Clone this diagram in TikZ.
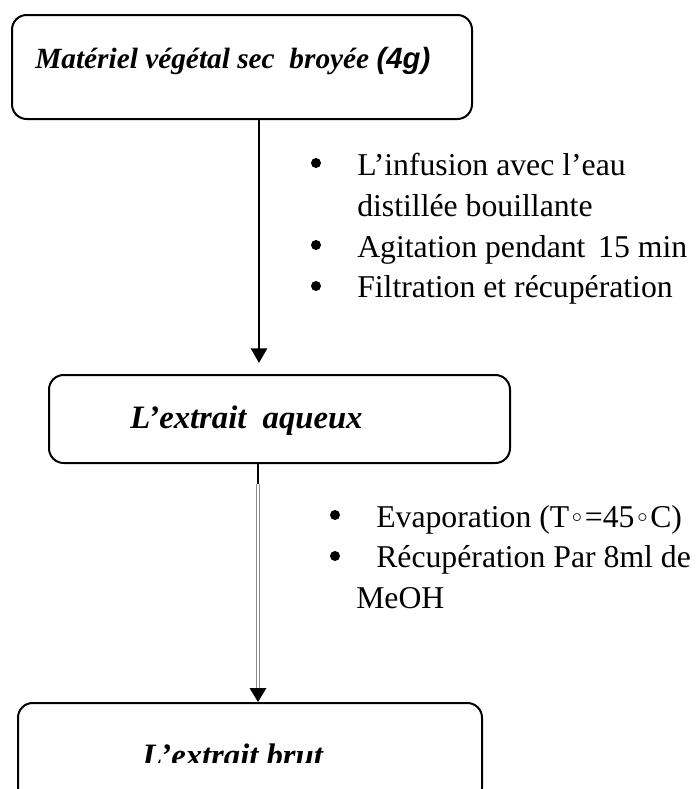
\documentclass[tikz,border=0pt]{standalone}
\usepackage{fontspec}
\setmainfont{Liberation Serif}
\newfontfamily\arialf{Liberation Sans}
\newfontfamily\dejavu{DejaVu Sans}
\usetikzlibrary{arrows.meta,calc}
\newcommand{\ringc}{{\dejavu\fontsize{20}{20}\selectfont ◦}}
\begin{document}
\begin{tikzpicture}[x=0.75pt,y=-0.75pt,
  box/.style={draw, line width=1.5pt, rounded corners=11pt, inner sep=0pt},
  ttl/.style={anchor=base west, inner sep=0pt, font=\fontsize{24.5}{29}\selectfont\bfseries\itshape},
  itm/.style={anchor=base west, inner sep=0pt, font=\fontsize{23.8}{29}\selectfont},
  bul/.style={circle, fill, inner sep=0pt, minimum size=7.5pt},
  arr/.style={line width=1.9pt, -{Triangle[width=12pt,length=11pt]}},
  dbl/.style={draw=gray!90, line width=0.9pt, double=white, double distance=0.8pt}]
\useasboundingbox (0,0) rectangle (696,789);
\clip (0,0) rectangle (696,789);
% boxes
\node[box, minimum width=345pt, minimum height=78pt] (b1) at (242,67) {};
\node[box, minimum width=345.75pt, minimum height=66pt] (b2) at (279.5,419) {};
\node[box, minimum width=348pt, minimum height=75pt] (b3) at (250,753) {};
% box texts
\node[ttl, font=\fontsize{22}{26}\selectfont\bfseries\itshape] (t1) at (35,68) {Matériel végétal sec\ \ broyée {\arialf(4g)}};
\node[ttl] (t2) at (130,428) {L’extrait\ \ aqueux};
\begin{scope}
\clip (0,700) rectangle (696,762);
\node[ttl] (t3) at (142,766) {L’extrait brut};
\end{scope}
% connector 1
\coordinate (a1) at (259,363);
\draw[arr] (b1.south -| a1) -- (a1);
% connector 2
\coordinate (k) at (258,484);
\coordinate (a2) at (258,702);
\draw[line width=2.2pt] (b2.south -| k) -- (k);
\draw[dbl] (k) -- ($(a2)+(0,-4)$);
\fill (a2) -- ++(-8.5,-14) -- ++(17,0) -- cycle;
% bullet list 1
\node[bul] (p1) at (316,163) {};
\node[itm] (l1) at (357,175) {L’infusion avec l’eau};
\node[itm] (l2) at (357,216) {distillée bouillante};
\node[bul] (p2) at (316,245) {};
\node[itm] (l3) at (357,257) {Agitation pendant\hspace{0.4em}15 min};
\node[bul] (p3) at (316,286) {};
\node[itm] (l4) at (357,297) {Filtration et récupération};
% bullet list 2
\node[bul] (q1) at (335,515) {};
\node[itm] (m1) at (376,527) {Evaporation (T\ringc=45\ringc C)};
\node[bul] (q2) at (335,556) {};
\node[itm] (m2) at (376,567) {Récupération Par 8ml de};
\node[itm] (m3) at (356,608) {MeOH};
\end{tikzpicture}
\end{document}
